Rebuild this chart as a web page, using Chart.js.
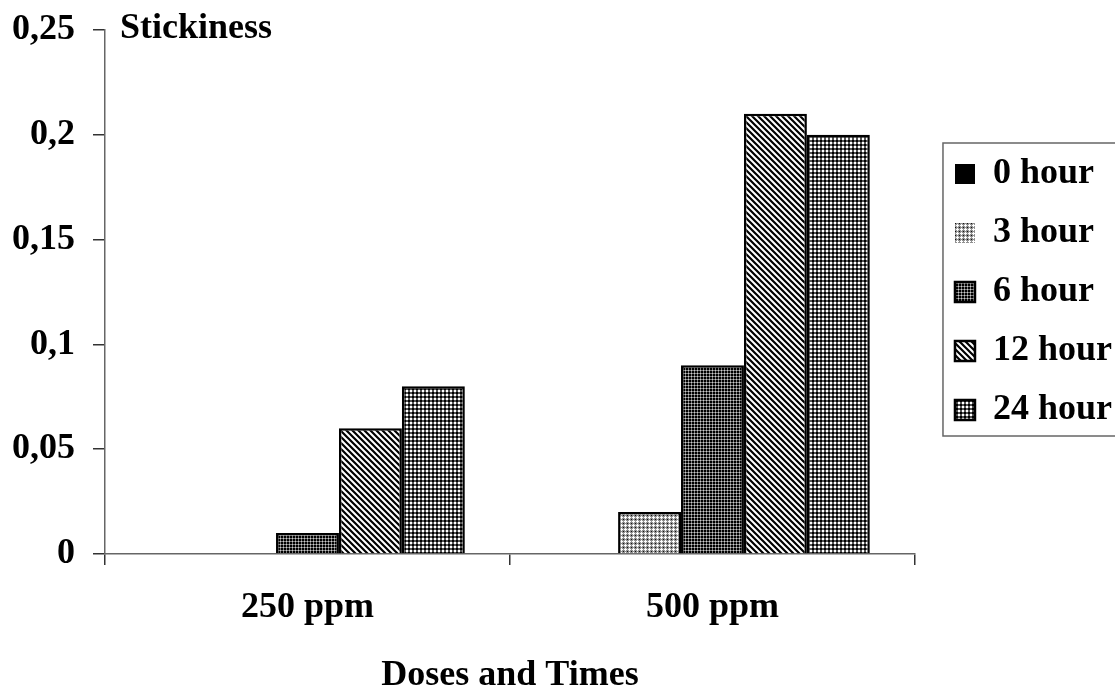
<!DOCTYPE html>
<html>
<head>
<meta charset="utf-8">
<script src="https://cdn.jsdelivr.net/npm/chart.js@4"></script>
<style>
  html, body { margin: 0; padding: 0; background: #fff; overflow: hidden; }
  #wrap { width: 1115px; height: 691px; }
</style>
</head>
<body>
<div id="wrap"><canvas id="myChart"></canvas></div>
<script>
var doses = ['250 ppm', '500 ppm'];
var times = ['0 hour', '3 hour', '6 hour', '12 hour', '24 hour'];
var hour0 = [0, 0];
var hour3 = [0, 0.02];
var hour6 = [0.01, 0.09];
var hour12 = [0.06, 0.21];
var hour24 = [0.08, 0.2];
var yTicks = ['0', '0,05', '0,1', '0,15', '0,2', '0,25'];

var FONT = '"Liberation Serif", "Times New Roman", serif';
var bold36 = { family: FONT, size: 36, weight: 'bold', lineHeight: 1 };

// little tiles for the black & white fills
function tile(w, h, draw) {
  var c = document.createElement('canvas');
  c.width = w; c.height = h;
  var g = c.getContext('2d');
  draw(g);
  return g.createPattern(c, 'repeat');
}
function px(g, col, pts) {
  g.fillStyle = col;
  pts.forEach(function (p) { g.fillRect(p[0], p[1], 1, 1); });
}

var solidBlack = '#000';
var lightCross = tile(4, 4, function (g) {
  g.fillStyle = '#909090'; g.fillRect(0, 0, 4, 4);
  px(g, '#fff', [[1, 0], [0, 1], [1, 1], [2, 1], [1, 2]]);
  px(g, '#111', [[3, 3]]);
});
var darkGrid = tile(3, 3, function (g) {
  g.fillStyle = '#000'; g.fillRect(0, 0, 3, 3);
  px(g, '#777', [[1, 0], [1, 2], [0, 1], [2, 1]]);
  px(g, '#ccc', [[1, 1]]);
});
var stripes = tile(6, 6, function (g) {
  g.fillStyle = '#fff'; g.fillRect(0, 0, 6, 6);
  g.strokeStyle = '#000'; g.lineWidth = 2.2;
  g.beginPath();
  g.moveTo(-3, -3); g.lineTo(9, 9);
  g.moveTo(-3, 3); g.lineTo(3, 9);
  g.moveTo(3, -3); g.lineTo(9, 3);
  g.stroke();
});
var checker = tile(4, 4, function (g) {
  g.fillStyle = '#555'; g.fillRect(0, 0, 4, 4);
  g.fillStyle = '#000'; g.fillRect(0, 0, 2, 2);
  g.fillStyle = '#fff'; g.fillRect(2, 2, 2, 2);
});

var fills = [solidBlack, lightCross, darkGrid, stripes, checker];
var series = [hour0, hour3, hour6, hour12, hour24];

var datasets = times.map(function (t, i) {
  return {
    label: t,
    data: series[i],
    backgroundColor: fills[i],
    borderColor: '#000',
    borderWidth: function (c) { return c.raw ? 2.5 : 0; },
    barPercentage: 1,
    categoryPercentage: 0.777
  };
});

var extras = {
  id: 'extras',
  afterLayout: function (chart) {
    // legend sits a bit off the plot and is centred on the plot height
    var lg = chart.legend;
    var ca = chart.chartArea;
    lg.left = ca.right + 17;
    lg.right = lg.left + lg.width;
    lg.top = ca.top;
    lg.bottom = ca.bottom;
    lg.height = ca.bottom - ca.top;
  },
  afterDraw: function (chart) {
    var ctx = chart.ctx;
    var hb = chart.legend.legendHitBoxes;
    ctx.save();
    if (hb && hb.length) {
      var first = hb[0], last = hb[hb.length - 1];
      var top = first.top + first.height / 2 - 31;
      var bot = last.top + last.height / 2 + 26;
      ctx.strokeStyle = '#666';
      ctx.lineWidth = 1.5;
      ctx.strokeRect(first.left - 12, top, 300, bot - top);
    }
    ctx.fillStyle = '#000';
    ctx.font = 'bold 36px ' + FONT;
    ctx.textBaseline = 'alphabetic';
    ctx.textAlign = 'left';
    ctx.fillText('Stickiness', chart.chartArea.left + 15, 38);
    ctx.restore();
  }
};

var ctx = document.getElementById('myChart').getContext('2d');
var myChart = new Chart(ctx, {
  type: 'bar',
  data: { labels: doses, datasets: datasets },
  plugins: [extras],
  options: {
    responsive: true,
    maintainAspectRatio: false,
    animation: false,
    layout: { padding: { top: 0, left: 12, right: 10, bottom: 0 } },
    scales: {
      x: {
        afterFit: function (s) { s.height = 137; },
        grid: { display: true, drawOnChartArea: false, color: '#333', tickLength: 11, lineWidth: 1.5 },
        border: { color: '#666', width: 1.5 },
        ticks: { color: '#000', font: bold36, padding: 25 },
        title: { display: true, text: 'Doses and Times', color: '#000', font: bold36, padding: { top: 29, bottom: -3 } }
      },
      y: {
        min: 0, max: 0.25,
        afterFit: function (s) { s.width = 93; s.paddingTop = 30; },
        grid: { display: true, drawOnChartArea: false, color: '#333', tickLength: 12, lineWidth: 1.5 },
        border: { color: '#666', width: 1.5 },
        ticks: {
          stepSize: 0.05,
          color: '#000',
          padding: 18,
          font: bold36,
          callback: function (v, i) { return yTicks[i]; }
        }
      }
    },
    plugins: {
      legend: {
        position: 'right',
        labels: {
          color: '#000',
          font: { family: FONT, size: 36, weight: 'bold' },
          boxWidth: 20, boxHeight: 20,
          padding: 23
        }
      },
      tooltip: { enabled: false }
    }
  }
});
</script>
</body>
</html>
